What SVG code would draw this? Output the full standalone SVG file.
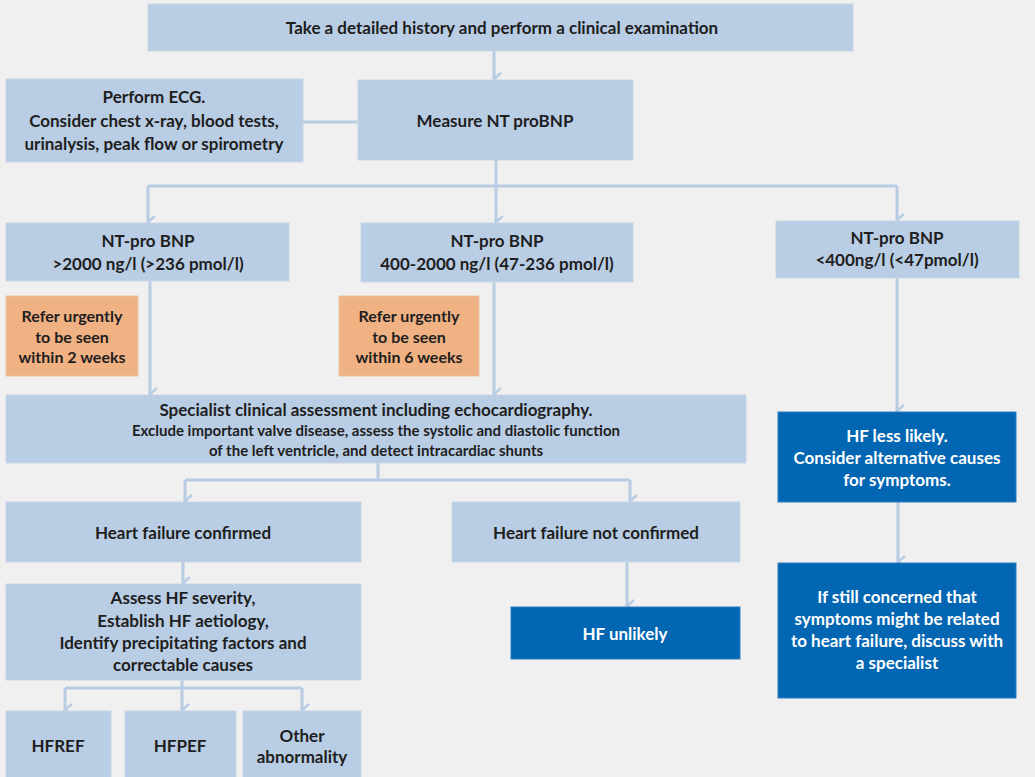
<svg xmlns="http://www.w3.org/2000/svg" width="1035" height="777" viewBox="0 0 1035 777">
<defs>
<style>
.lb{fill:#b9cde4;stroke:#c9d6e6;stroke-width:1}
.db{fill:#0366b2;stroke:#2b7cc0;stroke-width:1}
.or{fill:#f0b183;stroke:#e8c4a6;stroke-width:1}
text{font-family:Lato,"Open Sans","Liberation Sans",sans-serif;font-weight:bold;font-size:17px;text-anchor:middle;fill:#1e1e1e}
.w{fill:#ffffff}
.s{font-size:15px}
.o{font-size:16px}
.c{fill:none;stroke:#b8cce4;stroke-width:3}
</style>
<marker id="ah" markerUnits="userSpaceOnUse" markerWidth="16" markerHeight="12" refX="8" refY="10" orient="auto-start-reverse" viewBox="0 0 16 12">
<path d="M2,3 L8,10 L14,3" fill="none" stroke="#b8cce4" stroke-width="2.5"/>
</marker>
</defs>
<rect width="1035" height="777" fill="#f0f0f0"/>
<g id="connectors">
<path class="c" d="M494,50 V79" marker-end="url(#ah)"/>
<path class="c" d="M303,122 H358"/>
<path class="c" d="M496,160 V186"/>
<path class="c" d="M148,186 H897"/>
<path class="c" d="M148,186 V222" marker-end="url(#ah)"/>
<path class="c" d="M496,186 V222" marker-end="url(#ah)"/>
<path class="c" d="M897,186 V220" marker-end="url(#ah)"/>
<path class="c" d="M150,281 V394" marker-end="url(#ah)"/>
<path class="c" d="M494,282 V394" marker-end="url(#ah)"/>
<path class="c" d="M897,278 V411" marker-end="url(#ah)"/>
<path class="c" d="M378,463 V480"/>
<path class="c" d="M185,480 H630"/>
<path class="c" d="M185,480 V501" marker-end="url(#ah)"/>
<path class="c" d="M630,480 V501" marker-end="url(#ah)"/>
<path class="c" d="M183,562 V583" marker-end="url(#ah)"/>
<path class="c" d="M627,562 V606" marker-end="url(#ah)"/>
<path class="c" d="M898,502 V562" marker-end="url(#ah)"/>
<path class="c" d="M182,680 V710" marker-end="url(#ah)"/>
<path class="c" d="M65,688 H302"/>
<path class="c" d="M65,688 V710" marker-end="url(#ah)"/>
<path class="c" d="M302,688 V710" marker-end="url(#ah)"/>
</g>
<g id="history"><rect class="lb" x="148" y="4" width="705" height="47"/><text x="502" y="34">Take a detailed history and perform a clinical examination</text></g>
<g id="ecg"><rect class="lb" x="6" y="79" width="297" height="83"/>
<text x="154" y="103">Perform ECG.</text>
<text x="154" y="127">Consider chest x-ray, blood tests,</text>
<text x="154" y="150">urinalysis, peak flow or spirometry</text></g>
<g id="measure"><rect class="lb" x="358" y="80" width="275" height="80"/><text x="495" y="127">Measure NT proBNP</text></g>
<g id="bnp-high"><rect class="lb" x="6" y="223" width="283" height="58"/>
<text x="148" y="247">NT-pro BNP</text><text x="148" y="270">&gt;2000 ng/l (&gt;236 pmol/l)</text></g>
<g id="bnp-mid"><rect class="lb" x="361" y="223" width="272" height="59"/>
<text x="497" y="247">NT-pro BNP</text><text x="497" y="270">400-2000 ng/l (47-236 pmol/l)</text></g>
<g id="bnp-low"><rect class="lb" x="776" y="221" width="243" height="57"/>
<text x="897" y="244">NT-pro BNP</text><text x="897" y="266">&lt;400ng/l (&lt;47pmol/l)</text></g>
<g id="refer2"><rect class="or" x="6" y="296" width="132" height="80"/>
<text class="o" x="72" y="322">Refer urgently</text><text class="o" x="72" y="343">to be seen</text><text class="o" x="72" y="363">within 2 weeks</text></g>
<g id="refer6"><rect class="or" x="339" y="296" width="140" height="80"/>
<text class="o" x="409" y="322">Refer urgently</text><text class="o" x="409" y="343">to be seen</text><text class="o" x="409" y="363">within 6 weeks</text></g>
<g id="specialist"><rect class="lb" x="6" y="395" width="740" height="68"/>
<text x="376" y="416">Specialist clinical assessment including  echocardiography.</text>
<text class="s" x="376" y="436">Exclude important valve disease, assess the systolic and diastolic function</text>
<text class="s" x="376" y="456">of the left ventricle, and detect intracardiac shunts</text></g>
<g id="hf-less"><rect class="db" x="778" y="412" width="238" height="90"/>
<text class="w" x="897" y="442">HF less likely.</text><text class="w" x="897" y="464">Consider alternative causes</text><text class="w" x="897" y="486">for symptoms.</text></g>
<g id="hf-confirmed"><rect class="lb" x="6" y="502" width="355" height="60"/><text x="183" y="539">Heart failure confirmed</text></g>
<g id="hf-not-confirmed"><rect class="lb" x="452" y="502" width="288" height="60"/><text x="596" y="539">Heart failure not confirmed</text></g>
<g id="assess"><rect class="lb" x="6" y="584" width="355" height="96"/>
<text x="183" y="604">Assess HF severity,</text><text x="183" y="627">Establish HF aetiology,</text>
<text x="183" y="649">Identify precipitating factors and</text><text x="183" y="671">correctable causes</text></g>
<g id="hf-unlikely"><rect class="db" x="511" y="607" width="229" height="52"/><text class="w" x="625" y="640">HF unlikely</text></g>
<g id="discuss"><rect class="db" x="778" y="563" width="238" height="135"/>
<text class="w" x="897" y="603">If still concerned that</text><text class="w" x="897" y="625">symptoms might be related</text>
<text class="w" x="897" y="647">to heart failure, discuss with</text><text class="w" x="897" y="669">a specialist</text></g>
<g id="hfref"><rect class="lb" x="6" y="711" width="105" height="70"/><text x="58" y="752">HFREF</text></g>
<g id="hfpef"><rect class="lb" x="125" y="711" width="111" height="70"/><text x="180" y="752">HFPEF</text></g>
<g id="other"><rect class="lb" x="243" y="711" width="118" height="70"/><text x="302" y="742">Other</text><text x="302" y="763">abnormality</text></g>
</svg>
